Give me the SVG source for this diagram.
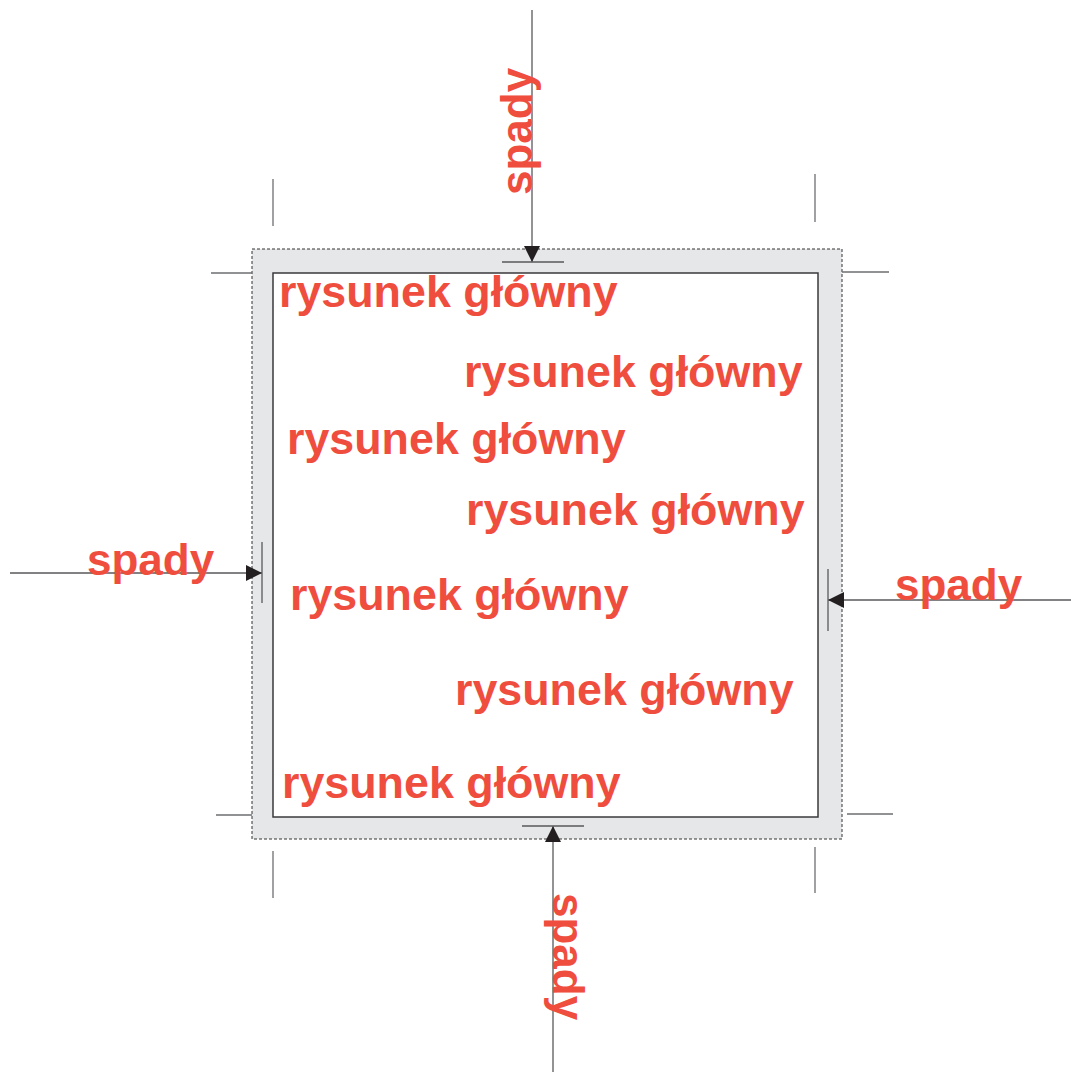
<svg xmlns="http://www.w3.org/2000/svg" width="1071" height="1072" viewBox="0 0 1071 1072">
<style>
.lbl{font-family:"Liberation Sans",Arial,sans-serif;font-weight:bold;font-size:44px;fill:#ef4e3e}
.main{font-size:44.8px}
.crop{stroke:#6d6e71;stroke-width:1.3;fill:none}
.conn{stroke:#58595b;stroke-width:1.3;fill:none}
.bar{stroke:#58595b;stroke-width:1.3;fill:none}
</style>
<defs>
<marker id="ah" markerWidth="16" markerHeight="16" refX="16" refY="8" orient="auto" markerUnits="userSpaceOnUse" viewBox="0 0 16 16">
<path d="M0,0 L16,8 L0,16 Z" fill="#231f20"/>
</marker>
</defs>
<rect width="1071" height="1072" fill="#ffffff"/>
<g id="bleed">
<rect x="252" y="249" width="590" height="590" fill="#e6e7e8" stroke="#333333" stroke-width="1" stroke-dasharray="3,2"/>
</g>
<g id="page">
<rect x="273" y="273" width="545" height="544" fill="#ffffff" stroke="#3a3a3c" stroke-width="1.5"/>
</g>
<g id="cropmarks">
<line class="crop" x1="273" y1="179" x2="273" y2="226"/>
<line class="crop" x1="211" y1="273" x2="252" y2="273"/>
<line class="crop" x1="815" y1="174" x2="815" y2="222"/>
<line class="crop" x1="842" y1="272" x2="889" y2="272"/>
<line class="crop" x1="216" y1="815" x2="252" y2="815"/>
<line class="crop" x1="273" y1="851" x2="273" y2="898"/>
<line class="crop" x1="847" y1="814" x2="893" y2="814"/>
<line class="crop" x1="815" y1="847" x2="815" y2="893"/>
</g>
<g id="texts">
<text class="lbl main" x="279" y="307">rysunek główny</text>
<text class="lbl main" x="464" y="387">rysunek główny</text>
<text class="lbl main" x="287" y="454">rysunek główny</text>
<text class="lbl main" x="466" y="525">rysunek główny</text>
<text class="lbl main" x="290" y="610">rysunek główny</text>
<text class="lbl main" x="455" y="705">rysunek główny</text>
<text class="lbl main" x="282" y="798">rysunek główny</text>
</g>
<g id="connectors">
<line class="conn" x1="532" y1="10" x2="532" y2="262" marker-end="url(#ah)"/>
<line class="bar" x1="502" y1="262" x2="564" y2="262"/>
<line class="conn" x1="10" y1="573" x2="262" y2="573" marker-end="url(#ah)"/>
<line class="bar" x1="262" y1="542" x2="262" y2="603"/>
<line class="conn" x1="1071" y1="600" x2="828" y2="600" marker-end="url(#ah)"/>
<line class="bar" x1="828" y1="569" x2="828" y2="631"/>
<line class="conn" x1="553" y1="1072" x2="553" y2="826" marker-end="url(#ah)"/>
<line class="bar" x1="522" y1="826" x2="584" y2="826"/>
</g>
<g id="spady-labels">
<text class="lbl" transform="translate(532,195) rotate(-90)">spady</text>
<text class="lbl" x="87" y="575">spady</text>
<text class="lbl" x="895" y="600">spady</text>
<text class="lbl" transform="translate(553,893) rotate(90)">spady</text>
</g>
</svg>
